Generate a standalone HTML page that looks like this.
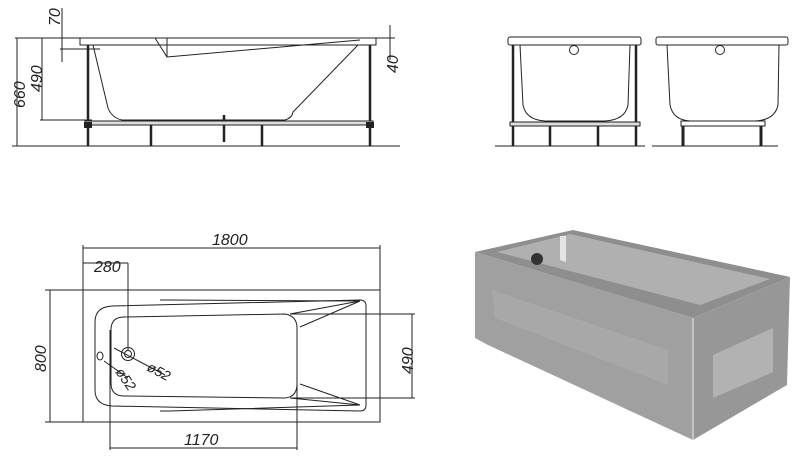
<!DOCTYPE html>
<html><head><meta charset="utf-8"><style>
html,body{margin:0;padding:0;background:#fff;}
svg{display:block;}
text{font-family:"Liberation Sans",sans-serif;font-style:italic;font-size:16px;fill:#222;}
</style></head><body>
<svg width="800" height="459" viewBox="0 0 800 459" xmlns="http://www.w3.org/2000/svg">
<g stroke="#222" stroke-width="1" fill="none">
<!-- side view -->
<line x1="12" y1="146" x2="400" y2="146"/>
<line x1="15" y1="38" x2="395" y2="38"/>
<rect x="80" y="38" width="296" height="7" fill="#fff"/>
<line x1="17" y1="38" x2="17" y2="146"/>
<line x1="42" y1="38" x2="42" y2="120"/>
<line x1="40" y1="120" x2="92" y2="120"/>
<line x1="62" y1="8" x2="62" y2="62"/>
<line x1="60" y1="49" x2="100" y2="49"/>
<line x1="390" y1="25" x2="390" y2="60"/>
<path d="M93 45 L108 108 Q112 118 122 120 L285 120 Q292 118 293 112 L358 45"/>
<path d="M155 38 L167 57 L360 40"/>
<line x1="167" y1="38" x2="167" y2="57"/>
<g stroke-width="2.5"><line x1="88" y1="45" x2="88" y2="146"/><line x1="370" y1="45" x2="370" y2="146"/>
<line x1="151" y1="124" x2="151" y2="146"/><line x1="262" y1="124" x2="262" y2="146"/><line x1="224" y1="115" x2="224" y2="142"/></g>
<rect x="85" y="121" width="288" height="4" fill="#ddd"/>
<!-- front views -->
<line x1="495" y1="146" x2="645" y2="146"/>
<rect x="508" y="37" width="133" height="8" rx="2" fill="#fff"/>
<path d="M520 45 L523 105 Q526 120 545 121 L605 121 Q625 120 628 105 L630 45"/>
<circle cx="574" cy="50" r="4.5"/>
<g stroke-width="2.5"><line x1="513" y1="45" x2="513" y2="146"/><line x1="636" y1="45" x2="636" y2="146"/>
<line x1="550" y1="125" x2="550" y2="146"/><line x1="598" y1="125" x2="598" y2="146"/></g>
<rect x="510" y="122" width="130" height="4" fill="#ddd"/>
<line x1="652" y1="146" x2="778" y2="146"/>
<rect x="656" y="37" width="132" height="8" rx="2" fill="#fff"/>
<path d="M667 45 L670 105 Q673 120 690 121 L755 121 Q775 120 778 105 L779 45"/>
<circle cx="720" cy="50" r="4.5"/>
<rect x="681" y="121" width="84" height="5" fill="#fff"/>
<g stroke-width="3"><line x1="683" y1="126" x2="683" y2="146"/><line x1="761" y1="126" x2="761" y2="146"/></g>
<!-- plan view -->
<rect x="83" y="290" width="297" height="132"/>
<line x1="83" y1="245" x2="83" y2="290"/><line x1="380" y1="245" x2="380" y2="290"/>
<line x1="83" y1="248" x2="380" y2="248"/>
<line x1="83" y1="263" x2="128" y2="263"/>
<line x1="128" y1="263" x2="128" y2="350"/>
<line x1="50" y1="290" x2="50" y2="422"/>
<line x1="45" y1="290" x2="83" y2="290"/><line x1="45" y1="422" x2="83" y2="422"/>
<line x1="412" y1="314" x2="412" y2="398"/>
<line x1="290" y1="314" x2="415" y2="314"/><line x1="290" y1="398" x2="415" y2="398"/>
<line x1="110" y1="448" x2="297" y2="448"/>
<line x1="110" y1="330" x2="110" y2="450"/><line x1="297" y1="330" x2="297" y2="450"/>
<path d="M112 306 L360 300 Q366 300 366 306 L366 405 Q366 411 360 411 L112 406 Q95 405 95 390 L95 322 Q95 307 112 306 Z"/>
<path d="M124 317 L285 314 Q297 316 297 328 L297 384 Q297 397 285 398 L124 396 Q111 396 111 383 L111 330 Q111 317 124 317 Z"/>
<path d="M160 300 L170 300 L360 301 L290 314 M360 301 L300 327 M160 411 L170 411 L360 405 L290 398 M360 405 L300 384"/>
<circle cx="128" cy="354" r="6.5"/><circle cx="128" cy="354" r="3.5"/>
<ellipse cx="100" cy="356" rx="3" ry="4"/>
<line x1="114" y1="348" x2="165" y2="375"/>
<line x1="104" y1="361" x2="128" y2="378"/>
</g>
<g fill="#222" stroke="none">
<rect x="84" y="122" width="8" height="6"/><rect x="366" y="122" width="8" height="6"/>
</g>
<text x="25" y="108" transform="rotate(-90 25 108)">660</text>
<text x="42" y="92" transform="rotate(-90 42 92)">490</text>
<text x="60" y="26" transform="rotate(-90 60 26)">70</text>
<text x="398" y="73" transform="rotate(-90 398 73)">40</text>
<text x="212" y="245">1800</text>
<text x="94" y="272">280</text>
<text x="46" y="372" transform="rotate(-90 46 372)">800</text>
<text x="413" y="374" transform="rotate(-90 413 374)">490</text>
<text x="184" y="445">1170</text>
<text x="146" y="370" transform="rotate(28 146 370)" style="font-size:14px">ø52</text>
<text x="115" y="372" transform="rotate(55 115 372)" style="font-size:14px">ø52</text>
<!-- 3D render -->
<polygon points="475,252 573,230 790,277 693,318" fill="#8e8e8e"/>
<polygon points="497,252 570,234 770,279 700,305" fill="#b0b0b0"/>
<polygon points="560,236 566,236 566,262 560,260" fill="#e4e4e4"/>
<polygon points="475,252 693,318 693,440 488,345 475,338" fill="#a0a0a0"/>
<polygon points="693,318 790,277 787,385 693,440" fill="#979797"/>
<polygon points="492,290 668,350 668,385 495,318" fill="#a8a8a8"/>
<polygon points="713,355 773,328 773,372 713,398" fill="#b2b2b2"/>
<line x1="693" y1="318" x2="693" y2="440" stroke="#d0d0d0" stroke-width="1.5"/>
<circle cx="537" cy="259" r="6" fill="#333"/>
</svg>
</body></html>
